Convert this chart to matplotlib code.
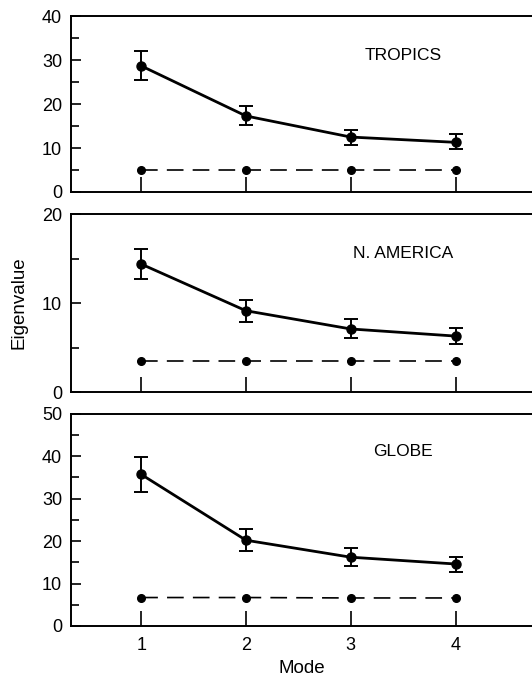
import numpy as np
import matplotlib.pyplot as plt

plt.rcParams['font.family'] = ['Liberation Sans', 'DejaVu Sans']

modes = [1, 2, 3, 4]
regions = ['TROPICS', 'N. AMERICA', 'GLOBE']

tropics_eig = [28.7, 17.3, 12.5, 11.3]
tropics_lo = [25.5, 15.3, 10.8, 9.8]
tropics_hi = [32.0, 19.6, 14.2, 13.2]
tropics_noise = [5.0, 5.0, 5.0, 5.0]

namer_eig = [14.4, 9.15, 7.1, 6.3]
namer_lo = [12.7, 7.9, 6.1, 5.4]
namer_hi = [16.1, 10.4, 8.2, 7.2]
namer_noise = [3.5, 3.5, 3.5, 3.5]

globe_eig = [35.7, 20.2, 16.2, 14.6]
globe_lo = [31.6, 17.6, 14.2, 12.7]
globe_hi = [39.8, 22.9, 18.3, 16.3]
globe_noise = [6.7, 6.7, 6.6, 6.6]

# per panel: y max, major step, label position
panels = [
    (tropics_eig, tropics_lo, tropics_hi, tropics_noise, 40, 10, 31.1),
    (namer_eig, namer_lo, namer_hi, namer_noise, 20, 10, 15.6),
    (globe_eig, globe_lo, globe_hi, globe_noise, 50, 10, 41.0),
]

fig = plt.figure(figsize=(5.32, 6.76), dpi=100)
boxes = [(0.1335, 0.716, 0.8665, 0.260),
         (0.1335, 0.420, 0.8665, 0.263),
         (0.1335, 0.074, 0.8665, 0.314)]

axes = []
for box, name, (eig, lo, hi, noise, ymax, step, ty) in zip(boxes, regions, panels):
    ax = fig.add_axes(box)
    eig = np.array(eig)
    yerr = [eig - np.array(lo), np.array(hi) - eig]
    ax.errorbar(modes, eig, yerr=yerr, color='black', lw=2.0, marker='o',
                ms=6.5, capsize=5, elinewidth=1.4, capthick=1.4)
    ax.plot(modes, noise, color='black', lw=1.2, ls=(0, (10, 5.5)),
            marker='o', ms=5.5)
    ax.text(3.5, ty, name, ha='center', va='center', fontsize=12.5)

    ax.set_xlim(0.33, 4.73)
    ax.set_ylim(0, ymax)
    ax.set_yticks(np.arange(0, ymax + 1, step))
    ax.set_yticks(np.arange(step / 2, ymax, step), minor=True)
    ax.set_xticks(modes)
    ax.tick_params(direction='in', labelsize=13, width=1.2, colors='black')
    ax.tick_params(axis='y', which='major', length=7, pad=6.5)
    ax.tick_params(axis='y', which='minor', length=6, width=1.2, direction='in')
    ax.tick_params(axis='x', length=11, pad=8)
    ax.spines['right'].set_visible(False)
    for s in ['left', 'top', 'bottom']:
        ax.spines[s].set_linewidth(1.4)
    axes.append(ax)

axes[0].set_xticklabels([])
axes[1].set_xticklabels([])
axes[2].set_xlabel('Mode', fontsize=13.5, labelpad=4)
fig.text(0.036, 0.552, 'Eigenvalue', rotation=90, ha='center', va='center',
         fontsize=13.5)

fig.savefig('out.png', dpi=100)
